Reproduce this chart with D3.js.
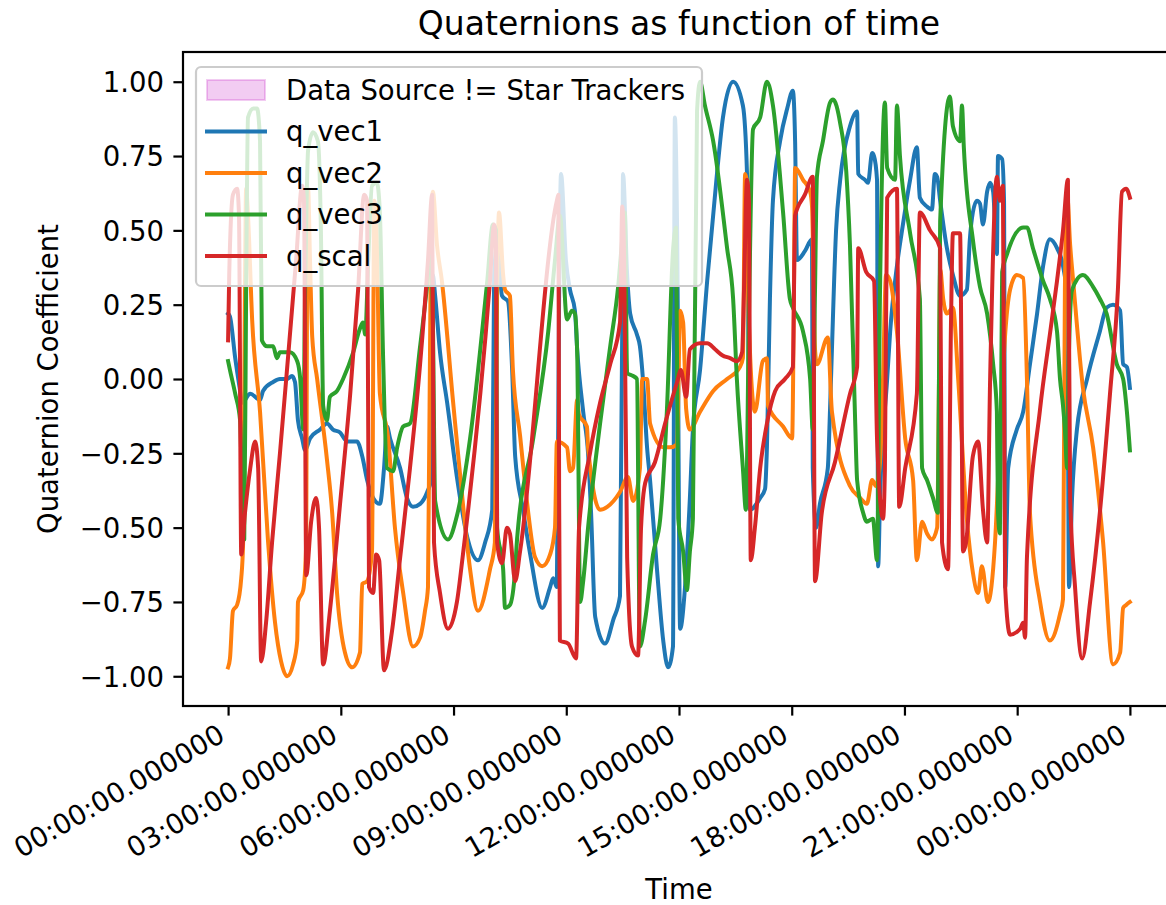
<!DOCTYPE html>
<html><head><meta charset="utf-8">
<script src="https://cdn.jsdelivr.net/npm/d3@7"></script>
<style>body{margin:0;background:#fff;overflow:hidden}svg{display:block;font-family:"DejaVu Sans",sans-serif}</style>
</head><body><svg id="chart" width="1166" height="905"></svg>
<script>
const chartTitle = "Quaternions as function of time";
const xAxisLabel = "Time";
const yAxisLabel = "Quaternion Coefficient";
const xTickHours = [0, 3, 6, 9, 12, 15, 18, 21, 24];
const xTickLabels = ["00:00:00.000000","03:00:00.000000","06:00:00.000000","09:00:00.000000","12:00:00.000000","15:00:00.000000","18:00:00.000000","21:00:00.000000","00:00:00.000000"];
const yTickValues = [-1, -0.75, -0.5, -0.25, 0, 0.25, 0.5, 0.75, 1];
const fillLabel = "Data Source != Star Trackers";
const seriesNames = ["q_vec1", "q_vec2", "q_vec3", "q_scal"];
const seriesColors = ["#1f77b4", "#ff7f0e", "#2ca02c", "#d62728"];

// [hours, value]
const qVec1 = [[0.00,0.22],[0.05,0.21],[0.19,0.07],[0.32,-0.04],[0.37,-0.08],[0.59,-0.05],[0.85,-0.07],[0.93,-0.04],[1.20,-0.01],[1.38,0.00],[1.57,0.00],[1.70,0.01],[1.78,-0.01],[1.86,-0.14],[1.97,-0.20],[2.05,-0.24],[2.18,-0.20],[2.45,-0.17],[2.63,-0.15],[2.79,-0.17],[2.98,-0.18],[3.17,-0.21],[3.43,-0.21],[3.57,-0.26],[3.70,-0.34],[3.86,-0.40],[4.04,-0.42],[4.15,-0.30],[4.23,-0.16],[4.31,-0.20],[4.58,-0.30],[4.76,-0.40],[4.92,-0.43],[5.11,-0.42],[5.30,-0.38],[5.40,-0.34],[5.45,0.35],[5.51,0.28],[5.64,0.09],[5.83,-0.08],[6.09,-0.33],[6.36,-0.53],[6.65,-0.61],[6.84,-0.55],[7.03,-0.44],[7.08,0.35],[7.16,0.45],[7.29,0.28],[7.45,0.26],[7.56,0.03],[7.64,-0.26],[7.85,-0.44],[8.04,-0.59],[8.36,-0.77],[8.57,-0.70],[8.65,-0.67],[8.75,-0.70],[8.81,0.30],[8.86,0.69],[8.99,0.40],[9.10,0.30],[9.23,0.23],[9.29,0.10],[9.45,-0.11],[9.58,-0.25],[9.66,-0.45],[9.77,-0.80],[10.03,-0.89],[10.25,-0.81],[10.43,-0.73],[10.49,0.20],[10.51,0.69],[10.62,0.35],[10.70,0.22],[10.88,0.15],[10.96,0.11],[11.04,0.00],[11.15,-0.23],[11.23,-0.34],[11.42,-0.65],[11.58,-0.88],[11.71,-0.97],[11.84,-0.90],[11.89,0.88],[11.95,0.50],[12.03,-0.84],[12.16,-0.70],[12.29,-0.40],[12.37,-0.17],[12.56,0.03],[12.75,0.33],[13.01,0.69],[13.17,0.88],[13.44,1.00],[13.70,0.92],[13.81,0.69],[13.89,-0.44],[14.16,-0.40],[14.29,-0.37],[14.34,-0.23],[14.42,0.27],[14.50,0.60],[14.69,0.80],[14.88,0.91],[15.03,0.97],[15.09,0.80],[15.14,0.40],[15.35,0.43],[15.54,0.47],[15.56,-0.30],[15.65,-0.50],[15.75,-0.42],[15.96,-0.30],[16.02,-0.10],[16.07,0.10],[16.18,0.50],[16.29,0.67],[16.55,0.85],[16.74,0.90],[16.77,0.69],[16.95,0.67],[17.03,0.66],[17.14,0.76],[17.19,0.75],[17.27,0.67],[17.30,-0.63],[17.35,-0.40],[17.54,0.00],[17.62,0.16],[17.80,0.38],[17.96,0.52],[18.15,0.67],[18.33,0.78],[18.41,0.61],[18.60,0.58],[18.73,0.57],[18.81,0.69],[18.87,0.68],[18.95,0.60],[19.13,0.44],[19.29,0.35],[19.48,0.28],[19.66,0.30],[19.74,0.47],[19.82,0.56],[19.93,0.60],[20.01,0.59],[20.09,0.52],[20.20,0.63],[20.28,0.66],[20.36,0.63],[20.46,0.42],[20.49,0.75],[20.60,0.74],[20.65,0.60],[20.68,-0.70],[20.76,-0.30],[20.99,-0.17],[21.16,-0.11],[21.34,0.05],[21.53,0.22],[21.69,0.38],[21.87,0.47],[22.06,0.44],[22.22,0.38],[22.33,0.27],[22.38,-0.70],[22.46,-0.40],[22.59,-0.17],[22.86,0.00],[23.20,0.16],[23.38,0.24],[23.55,0.25],[23.74,0.23],[23.82,0.05],[23.92,0.04],[24.00,-0.03]];

const qVec2 = [[0.00,-0.97],[0.05,-0.94],[0.13,-0.78],[0.24,-0.76],[0.35,-0.67],[0.40,-0.55],[0.45,0.33],[0.48,0.64],[0.53,0.55],[0.64,0.20],[0.85,-0.11],[1.06,-0.54],[1.25,-0.82],[1.41,-0.95],[1.57,-1.00],[1.73,-0.96],[1.84,-0.88],[1.86,-0.75],[2.00,-0.71],[2.08,-0.55],[2.10,0.30],[2.13,0.64],[2.18,0.40],[2.24,0.14],[2.37,0.00],[2.63,-0.27],[2.77,-0.45],[2.90,-0.72],[3.11,-0.92],[3.30,-0.97],[3.51,-0.92],[3.57,-0.69],[3.70,-0.68],[3.83,-0.58],[3.89,0.60],[3.94,0.55],[4.04,-0.05],[4.26,-0.20],[4.44,-0.50],[4.66,-0.72],[4.92,-0.90],[5.11,-0.87],[5.24,-0.78],[5.32,-0.70],[5.40,0.50],[5.45,0.63],[5.56,0.45],[5.69,0.33],[5.99,-0.08],[6.25,-0.42],[6.44,-0.64],[6.65,-0.78],[6.97,-0.64],[7.10,-0.55],[7.16,0.30],[7.21,0.56],[7.32,0.35],[7.37,0.30],[7.50,0.28],[7.58,0.03],[7.77,-0.19],[7.96,-0.42],[8.17,-0.60],[8.36,-0.63],[8.57,-0.59],[8.70,-0.50],[8.75,-0.21],[9.02,-0.23],[9.10,-0.31],[9.18,-0.30],[9.29,-0.07],[9.34,-0.12],[9.55,-0.16],[9.58,-0.23],[9.90,-0.44],[10.09,-0.43],[10.43,-0.38],[10.64,-0.33],[10.78,-0.41],[10.96,-0.30],[11.02,0.00],[11.15,0.00],[11.23,-0.15],[11.58,-0.23],[11.76,-0.23],[11.95,-0.22],[12.03,0.23],[12.11,0.19],[12.19,-0.10],[12.29,-0.17],[12.56,-0.11],[12.91,-0.04],[13.28,0.00],[13.62,0.04],[13.70,0.07],[13.76,0.69],[13.81,0.66],[13.84,0.27],[14.02,-0.11],[14.23,0.06],[14.34,0.07],[14.37,-0.09],[14.77,-0.16],[15.01,-0.20],[15.06,0.30],[15.09,0.71],[15.30,0.67],[15.49,0.63],[15.54,0.58],[15.62,0.10],[15.67,0.05],[15.96,0.14],[16.07,-0.11],[16.55,-0.36],[16.82,-0.40],[17.00,-0.42],[17.14,-0.34],[17.24,-0.36],[17.35,-0.28],[17.43,0.00],[17.51,0.35],[17.62,0.33],[17.80,0.16],[18.02,-0.20],[18.23,-0.34],[18.33,-0.61],[18.47,-0.48],[18.60,-0.52],[18.73,-0.54],[18.87,-0.50],[18.92,0.00],[18.95,0.37],[19.03,0.27],[19.13,0.22],[19.29,0.24],[19.43,0.00],[19.66,-0.47],[19.82,-0.65],[19.96,-0.72],[20.06,-0.63],[20.22,-0.75],[20.41,-0.55],[20.54,-0.20],[20.68,0.15],[20.81,0.30],[20.99,0.35],[21.16,0.34],[21.26,0.00],[21.34,-0.45],[21.61,-0.75],[21.87,-0.88],[22.14,-0.79],[22.22,-0.74],[22.27,0.30],[22.33,0.62],[22.41,0.45],[22.49,0.33],[22.75,-0.03],[23.02,-0.23],[23.28,-0.54],[23.55,-0.96],[23.74,-0.92],[23.82,-0.77],[23.90,-0.76],[24.00,-0.75]];

const qVec3 = [[0.00,0.06],[0.05,0.03],[0.19,-0.05],[0.32,-0.14],[0.37,-0.37],[0.43,-0.54],[0.48,0.30],[0.53,0.88],[0.67,0.91],[0.77,0.91],[0.85,0.80],[0.90,0.13],[1.04,0.11],[1.20,0.11],[1.30,0.07],[1.38,0.09],[1.65,0.09],[1.84,0.06],[1.92,0.00],[2.00,-0.17],[2.05,0.30],[2.13,0.77],[2.26,0.83],[2.39,0.80],[2.47,0.50],[2.53,-0.09],[2.63,-0.14],[2.71,-0.06],[2.90,-0.04],[3.06,0.00],[3.33,0.09],[3.51,0.17],[3.59,0.19],[3.65,0.15],[3.73,0.40],[3.83,0.65],[3.96,0.66],[4.04,0.56],[4.12,0.10],[4.23,-0.30],[4.39,-0.31],[4.50,-0.23],[4.66,-0.16],[4.84,-0.15],[5.11,0.11],[5.30,0.32],[5.40,0.45],[5.45,0.20],[5.51,-0.41],[5.85,-0.54],[6.09,-0.46],[6.44,-0.20],[6.89,0.32],[7.05,0.52],[7.13,0.50],[7.16,-0.50],[7.32,-0.64],[7.37,-0.77],[7.50,-0.76],[7.64,-0.64],[7.69,-0.54],[8.12,-0.20],[8.52,0.16],[8.70,0.40],[8.83,0.55],[9.02,0.20],[9.15,0.23],[9.23,0.22],[9.29,0.09],[9.37,-0.75],[9.45,-0.68],[9.58,-0.50],[9.90,-0.15],[10.17,0.11],[10.38,0.31],[10.51,0.50],[10.56,0.56],[10.62,0.02],[10.78,0.01],[10.88,0.00],[10.96,-0.90],[11.10,-0.81],[11.31,-0.59],[11.50,-0.47],[11.68,-0.10],[11.84,0.43],[11.92,0.51],[11.98,-0.47],[12.11,-0.58],[12.21,-0.71],[12.29,-0.58],[12.37,-0.47],[12.48,0.90],[12.56,1.00],[12.69,0.92],[12.91,0.80],[13.28,0.44],[13.44,0.27],[13.54,0.00],[13.70,-0.30],[13.78,-0.44],[13.86,0.20],[13.97,0.84],[14.16,0.88],[14.34,1.00],[14.50,0.92],[14.77,0.56],[14.95,0.27],[15.03,0.24],[15.30,0.16],[15.49,0.00],[15.56,-0.17],[15.62,0.30],[15.67,0.68],[15.83,0.80],[16.02,0.93],[16.10,0.94],[16.29,0.86],[16.45,0.70],[16.55,0.45],[16.69,-0.15],[16.74,-0.34],[16.90,-0.45],[17.00,-0.48],[17.16,-0.47],[17.27,-0.61],[17.35,0.30],[17.48,0.93],[17.54,0.71],[17.75,0.67],[17.80,0.92],[17.88,0.75],[18.15,0.49],[18.41,0.27],[18.47,-0.30],[18.60,-0.34],[18.76,-0.40],[18.89,-0.45],[18.95,0.53],[19.21,0.95],[19.29,0.85],[19.48,0.80],[19.53,0.92],[19.58,0.78],[19.82,0.47],[20.01,0.31],[20.20,0.22],[20.36,0.05],[20.46,-0.11],[20.49,-0.45],[20.54,-0.52],[20.60,0.36],[20.73,0.42],[21.16,0.51],[21.26,0.51],[21.42,0.44],[21.69,0.33],[21.87,0.27],[22.06,0.16],[22.14,0.00],[22.22,-0.09],[22.27,-0.17],[22.33,-0.30],[22.38,0.10],[22.46,0.30],[22.75,0.35],[23.02,0.31],[23.20,0.27],[23.38,0.22],[23.65,0.05],[23.82,0.00],[23.92,-0.11],[24.00,-0.24]];

const qScal = [[0.00,0.13],[0.03,0.35],[0.13,0.62],[0.24,0.64],[0.29,0.55],[0.35,-0.59],[0.45,-0.45],[0.59,-0.30],[0.72,-0.21],[0.80,-0.30],[0.88,-0.95],[1.01,-0.82],[1.17,-0.55],[1.38,-0.25],[1.60,0.08],[1.81,0.40],[1.97,0.65],[2.02,0.60],[2.08,-0.66],[2.21,-0.48],[2.34,-0.40],[2.42,-0.50],[2.53,-0.96],[2.71,-0.78],[2.98,-0.42],[3.25,-0.05],[3.46,0.30],[3.62,0.62],[3.70,0.60],[3.75,-0.70],[3.86,-0.72],[3.94,-0.59],[4.02,-0.61],[4.15,-0.98],[4.36,-0.85],[4.58,-0.60],[4.84,-0.30],[5.11,0.05],[5.32,0.40],[5.43,0.62],[5.48,-0.55],[5.64,-0.72],[5.85,-0.84],[6.09,-0.75],[6.25,-0.59],[6.97,0.33],[7.08,0.52],[7.13,0.45],[7.16,-0.55],[7.29,-0.62],[7.42,-0.50],[7.50,-0.52],[7.64,-0.68],[7.77,-0.58],[8.75,0.60],[8.79,0.62],[8.81,-0.40],[8.83,-0.88],[9.05,-0.89],[9.26,-0.94],[9.34,-0.50],[9.63,-0.25],[9.90,-0.08],[10.17,0.05],[10.43,0.19],[10.49,0.58],[10.54,0.40],[10.62,-0.60],[10.75,-0.90],[10.91,-0.93],[10.99,-0.50],[11.10,-0.35],[11.36,-0.28],[11.63,-0.15],[11.95,-0.01],[12.05,0.03],[12.19,-0.06],[12.29,0.10],[12.56,0.12],[12.75,0.12],[12.96,0.10],[13.15,0.08],[13.36,0.07],[13.54,0.06],[13.68,0.09],[13.73,0.30],[13.81,0.67],[13.86,0.60],[13.91,-0.61],[14.02,-0.50],[14.16,-0.30],[14.34,-0.15],[14.56,-0.04],[14.82,0.00],[15.03,0.04],[15.09,0.55],[15.35,0.62],[15.56,0.68],[15.62,-0.68],[15.80,-0.45],[16.15,-0.28],[16.55,-0.05],[16.74,0.04],[16.77,0.44],[16.98,0.36],[17.19,0.33],[17.27,-0.20],[17.43,-0.47],[17.48,-0.30],[17.54,0.61],[17.80,0.64],[17.86,-0.43],[18.02,-0.30],[18.33,-0.05],[18.41,0.56],[18.68,0.50],[18.95,0.44],[19.00,-0.55],[19.16,-0.64],[19.24,0.20],[19.29,0.49],[19.48,0.49],[19.56,-0.58],[19.64,-0.55],[19.82,-0.26],[19.96,-0.21],[20.09,-0.44],[20.20,-0.55],[20.28,0.00],[20.46,0.68],[20.54,0.60],[20.62,0.65],[20.68,-0.70],[20.81,-0.86],[21.08,-0.84],[21.16,-0.82],[21.21,-0.87],[21.26,-0.60],[21.61,-0.10],[21.87,0.15],[22.06,0.33],[22.22,0.50],[22.35,0.67],[22.41,-0.40],[22.54,-0.70],[22.73,-0.94],[22.94,-0.75],[23.20,-0.45],[23.47,-0.05],[23.68,0.30],[23.79,0.63],[23.90,0.64],[24.00,0.61]];

const seriesData = [qVec1, qVec2, qVec3, qScal];

const FONT = "DejaVu Sans";
const svg = d3.select("#chart");
const plot = {left: 183, right: 1175, top: 52, bottom: 706};

const x = d3.scaleLinear().domain([-1.2, 25.2]).range([plot.left, plot.right]);
const y = d3.scaleLinear().domain([-1.1, 1.1]).range([plot.bottom, plot.top]);

const tickFont = 27.5;

svg.append("defs").append("clipPath").attr("id", "clipPlot")
  .append("rect").attr("x", plot.left).attr("y", plot.top)
  .attr("width", plot.right - plot.left).attr("height", plot.bottom - plot.top);

const line = d3.line().x(d => x(d[0])).y(d => y(d[1])).curve(d3.curveMonotoneX);
const gLines = svg.append("g").attr("clip-path", "url(#clipPlot)");
seriesData.forEach((data, i) => {
  gLines.append("path").datum(data)
    .attr("d", line)
    .attr("fill", "none")
    .attr("stroke", seriesColors[i])
    .attr("stroke-width", 4)
    .attr("stroke-linejoin", "round")
    .attr("stroke-linecap", "square");
});

// axes
const xAxis = d3.axisBottom(x).tickValues(xTickHours).tickSize(9.6).tickPadding(9)
  .tickFormat((d, i) => xTickLabels[i]);
const gx = svg.append("g").attr("transform", `translate(0,${plot.bottom})`).call(xAxis)
  .attr("font-family", FONT).attr("font-size", tickFont);
gx.select(".domain").remove();
gx.selectAll(".tick line").attr("stroke", "#000").attr("stroke-width", 2.2);
gx.selectAll(".tick text")
  .attr("fill", "#000")
  .attr("text-anchor", "end")
  .attr("dy", null).attr("y", null)
  .attr("transform", "translate(-2,34) rotate(-30)");

const fmtY = v => (v < 0 ? "\u2212" : "") + Math.abs(v).toFixed(2);
const yAxis = d3.axisLeft(y).tickValues(yTickValues).tickSize(9.6).tickPadding(9.5).tickFormat(fmtY);
const gy = svg.append("g").attr("transform", `translate(${plot.left},0)`).call(yAxis)
  .attr("font-family", FONT).attr("font-size", tickFont);
gy.select(".domain").remove();
gy.selectAll(".tick line").attr("stroke", "#000").attr("stroke-width", 2.2);
gy.selectAll(".tick text").attr("fill", "#000").attr("dy", "0.36em");

// frame
svg.append("rect").attr("x", plot.left).attr("y", plot.top)
  .attr("width", plot.right - plot.left).attr("height", plot.bottom - plot.top)
  .attr("fill", "none").attr("stroke", "#000").attr("stroke-width", 2.2);

// title & labels
svg.append("text").attr("x", (plot.left + plot.right) / 2).attr("y", 35)
  .attr("text-anchor", "middle").attr("font-family", FONT).attr("font-size", 33).attr("fill", "#000").text(chartTitle);
svg.append("text").attr("x", (plot.left + plot.right) / 2).attr("y", 899)
  .attr("text-anchor", "middle").attr("font-family", FONT).attr("font-size", tickFont).attr("fill", "#000").text(xAxisLabel);
svg.append("text").attr("transform", `translate(58,${(plot.top + plot.bottom) / 2}) rotate(-90)`)
  .attr("text-anchor", "middle").attr("font-family", FONT).attr("font-size", tickFont).attr("fill", "#000").text(yAxisLabel);

// legend
const lg = svg.append("g").attr("font-family", FONT);
lg.append("rect").attr("x", 196).attr("y", 67).attr("width", 506).attr("height", 219)
  .attr("rx", 5).attr("fill", "#fff").attr("fill-opacity", 0.8)
  .attr("stroke", "#cccccc").attr("stroke-width", 2.2);
const rowY = [90, 131.5, 173, 214.5, 256];
lg.append("rect").attr("x", 207).attr("y", rowY[0] - 10).attr("width", 58).attr("height", 20)
  .attr("fill", "#bf00bf").attr("fill-opacity", 0.2)
  .attr("stroke", "#bf00bf").attr("stroke-opacity", 0.2).attr("stroke-width", 2);
lg.append("text").attr("x", 286).attr("y", rowY[0]).attr("dy", "0.36em")
  .attr("font-size", tickFont).attr("fill", "#000").text(fillLabel);
seriesNames.forEach((name, i) => {
  const yy = rowY[i + 1];
  lg.append("line").attr("x1", 207).attr("x2", 265).attr("y1", yy).attr("y2", yy)
    .attr("stroke", seriesColors[i]).attr("stroke-width", 4).attr("stroke-linecap", "square");
  lg.append("text").attr("x", 286).attr("y", yy).attr("dy", "0.36em")
    .attr("font-size", tickFont).attr("fill", "#000").text(name);
});
</script>
</body></html>
